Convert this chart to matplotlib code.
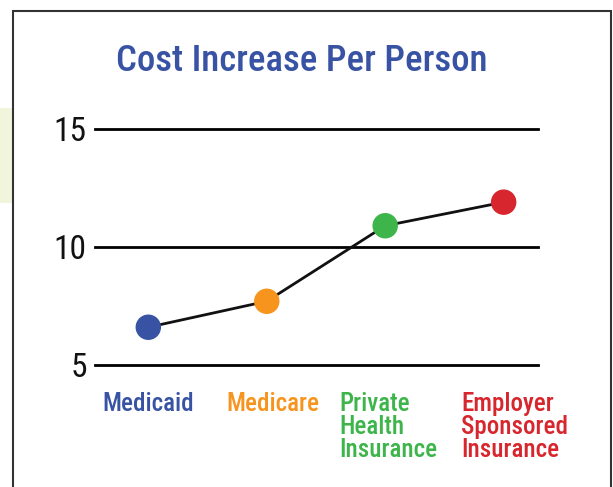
import matplotlib
matplotlib.use("Agg")
import matplotlib.pyplot as plt
import matplotlib.patches as patches

plt.rcParams["font.family"] = ["Roboto Condensed", "DejaVu Sans"]

categories = ["Medicaid", "Medicare", "Private\nHealth\nInsurance", "Employer\nSponsored\nInsurance"]
values = [6.6, 7.7, 10.9, 11.9]
colors = ["#3953a4", "#f7941d", "#3db54a", "#d7262d"]
yticks = [5, 10, 15]

fig = plt.figure(figsize=(6.13, 4.87), dpi=100)
fig.patch.set_facecolor("white")

# side tab and frame
fig.patches.append(patches.Rectangle((0, 1 - 203/487), 12/613, 95/487, transform=fig.transFigure,
                                     facecolor="#f1f5dc", edgecolor="none", zorder=0))
fig.patches.append(patches.Rectangle((13/613, -0.05), 598/613, 1.05 - 11/487, transform=fig.transFigure,
                                     facecolor="none", edgecolor="#333333", lw=1.5, zorder=1))

ax = fig.add_axes([95/613, 1 - 365/487, 443/613, 236/487])
ax.set_xlim(-0.45, 3.29)
ax.set_ylim(5, 15)
for s in ax.spines.values():
    s.set_visible(False)
for y in yticks:
    ax.axhline(y, color="black", lw=2, zorder=1, clip_on=False)

x = list(range(len(values)))
ax.plot(x, values, color="#111111", lw=2, zorder=2)
ax.scatter(x, values, s=300, c=colors, zorder=3, clip_on=False)

ax.set_xticks([])
ax.set_yticks(yticks)
ax.set_yticklabels([str(t) for t in yticks], fontsize=24, color="#111111")
ax.tick_params(axis="y", length=0, pad=6)

offsets = [-0.39, -0.34, -0.39, -0.36]
for i, (lab, c) in enumerate(zip(categories, colors)):
    ax.text(i + offsets[i], -0.115, lab, transform=ax.get_xaxis_transform(), ha="left", va="top",
            fontsize=18, fontweight="medium", color=c, linespacing=0.95)

fig.text(302/613, 1 - 61/487, "Cost Increase Per Person", ha="center", va="center",
         fontsize=26.5, fontweight="medium", color="#3953a4")

fig.savefig("out.png", dpi=100)
